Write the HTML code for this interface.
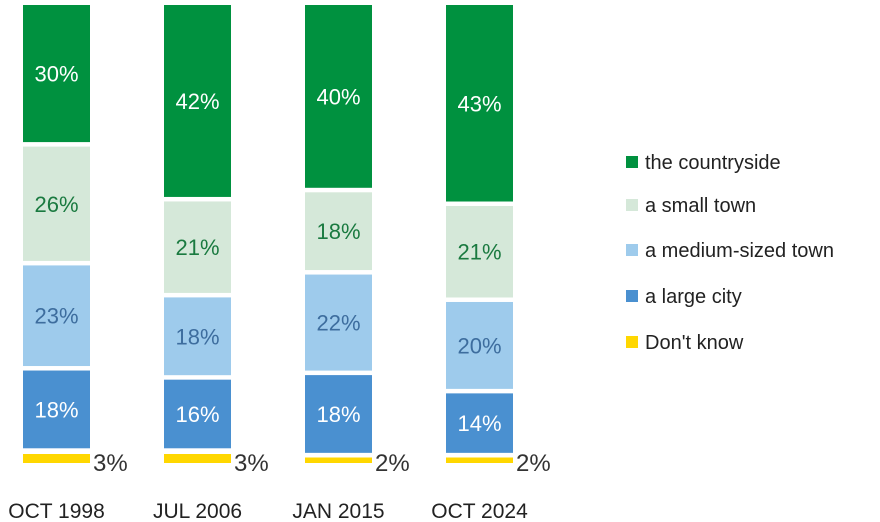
<!DOCTYPE html>
<html><head><meta charset="utf-8"><style>
body{margin:0;background:#fff;font-family:"Liberation Sans",sans-serif}
svg{display:block}
</style></head><body>
<svg id="chart" width="880" height="522"></svg>
<script>
const categories=["OCT 1998","JUL 2006","JAN 2015","OCT 2024"];
const seriesNames=["the countryside","a small town","a medium-sized town","a large city","Don't know"];
const countryside=[30,42,40,43];
const smallTown=[26,21,18,21];
const mediumTown=[23,18,22,20];
const largeCity=[18,16,18,14];
const dontKnow=[3,3,2,2];
const colors=["#00913f","#d5e8d9","#9ecbec","#4a90d0","#ffd700"];
const textColors=["#fff","#1a7a40","#3d6d9e","#fff"];
const svg=document.getElementById('chart');
const NS="http://www.w3.org/2000/svg";
const barX=i=>23+i*141, barW=67, top0=5, s=4.57;
const yScale=v=>top0+v*s;
function mk(tag,attrs){const e=document.createElementNS(NS,tag);for(const k in attrs)e.setAttribute(k,attrs[k]);svg.appendChild(e);return e;}
const stack=[countryside,smallTown,mediumTown,largeCity];
categories.forEach((c,i)=>{
  let cum=0;
  stack.forEach((arr,j)=>{
    const v=arr[i];
    const y0=yScale(cum)+(j>0?4.5:0), y1=yScale(cum+v);
    const r=mk('rect',{x:barX(i),y:y0,width:barW,height:Math.max(0,y1-y0),fill:colors[j]});
    
    
    const t=mk('text',{x:barX(i)+barW/2,y:(y0+y1)/2+8,'text-anchor':'middle','font-size':'22',fill:textColors[j]});
    t.textContent=v+'%';
    
    
    cum+=v;
  });
  const dk=dontKnow[i], h=dk*3.5-1.5;
  const r=mk('rect',{x:barX(i),y:463-h,width:barW,height:h,fill:colors[4]});
  
  
  const t=mk('text',{x:barX(i)+barW+3,y:471,'font-size':'24',fill:'#333'});
  t.textContent=dk+'%';
  
  
  const cl=mk('text',{x:barX(i)+barW/2,y:518,'text-anchor':'middle','font-size':'21',fill:'#222'});
  cl.textContent=c;
  
  
});
const legY=[162,205,250,296,342];
seriesNames.forEach((n,j)=>{
  const r=mk('rect',{x:626,y:legY[j]-6,width:12,height:12,fill:colors[j]});
  
  
  const t=mk('text',{x:645,y:legY[j]+7,'font-size':'20',fill:'#222'});
  t.textContent=n;
  
  
});
</script>
</body></html>
